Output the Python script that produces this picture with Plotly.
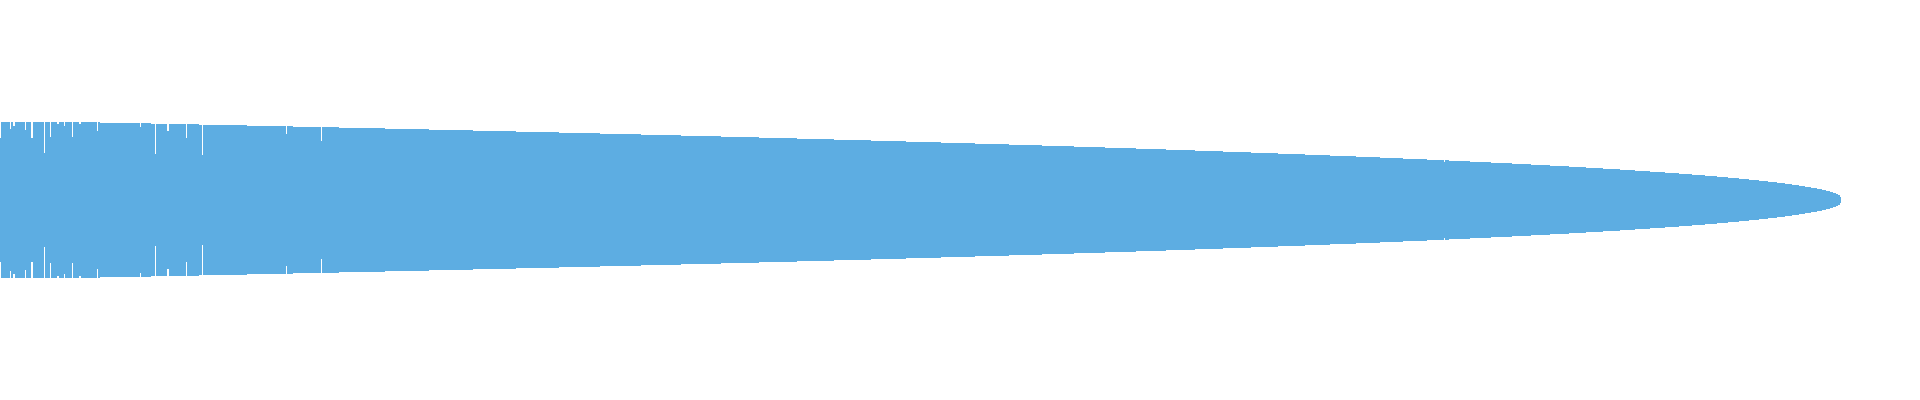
import plotly.graph_objects as go

# amplitude envelope as (sample where level starts, amplitude)
sample_start = [
    0, 1, 10, 11, 13, 15, 25, 26, 31, 33, 44, 45, 50, 51, 57, 59, 64, 65, 72, 73,
    79, 81, 97, 98, 100, 140, 141, 151, 155, 156, 167, 169, 186, 187, 199, 202, 203,
    247, 286, 287, 293, 321, 322, 339, 385, 429, 473, 516, 559, 600, 641, 681, 721,
    759, 797, 834, 871, 906, 941, 975, 1009, 1042, 1074, 1105, 1136, 1166, 1195,
    1223, 1251, 1278, 1305, 1330, 1356, 1380, 1403, 1427, 1444, 1445, 1449, 1470,
    1491, 1512, 1531, 1550, 1569, 1586, 1603, 1620, 1635, 1650, 1665, 1679, 1692,
    1705, 1717, 1728, 1739, 1749, 1759, 1768, 1777, 1785, 1792, 1799, 1805, 1811,
    1817, 1822, 1826, 1830, 1833, 1836, 1838, 1840, 1841,
]
amplitude = [
    62, 78, 71, 78, 74, 78, 70, 78, 62, 78, 47, 78, 63, 78, 76, 78, 74, 78, 63, 78,
    76, 78, 69, 78, 77, 73, 77, 76, 46, 76, 69, 76, 62, 76, 75, 45, 75,
    74, 66, 74, 73, 59, 73, 72, 71, 70, 69, 68, 67, 66, 65, 64, 63,
    62, 61, 60, 59, 58, 57, 56, 55, 54, 53, 52, 51, 50, 49,
    48, 47, 46, 45, 44, 43, 42, 41, 40, 38, 40, 39, 38,
    37, 36, 35, 34, 33, 32, 31, 30, 29, 28, 27, 26, 25,
    24, 23, 22, 21, 20, 19, 18, 17, 16, 15, 14, 13, 12,
    11, 10, 9, 8, 7, 6, 5, 3, 0,
]

color = '#5DADE2'

fig = go.Figure()
# upper and lower half of the waveform
fig.add_trace(go.Scatter(x=sample_start, y=amplitude, mode='lines', line_shape='hv',
                         line=dict(width=0, color=color), fill='tozeroy',
                         fillcolor=color, hoverinfo='skip'))
fig.add_trace(go.Scatter(x=sample_start, y=[-a for a in amplitude], mode='lines',
                         line_shape='hv', line=dict(width=0, color=color),
                         fill='tozeroy', fillcolor=color, hoverinfo='skip'))

fig.update_layout(
    width=1920, height=400,
    margin=dict(l=0, r=0, t=0, b=0),
    showlegend=False,
    plot_bgcolor='white', paper_bgcolor='white',
    xaxis=dict(visible=False, range=[0, 1920], fixedrange=True),
    yaxis=dict(visible=False, range=[-200, 200], fixedrange=True),
)

# the page default body margin would push the chart 8px in
fig.write_html('out.html', config={'displayModeBar': False},
               post_script="document.body.style.margin = '0';")
